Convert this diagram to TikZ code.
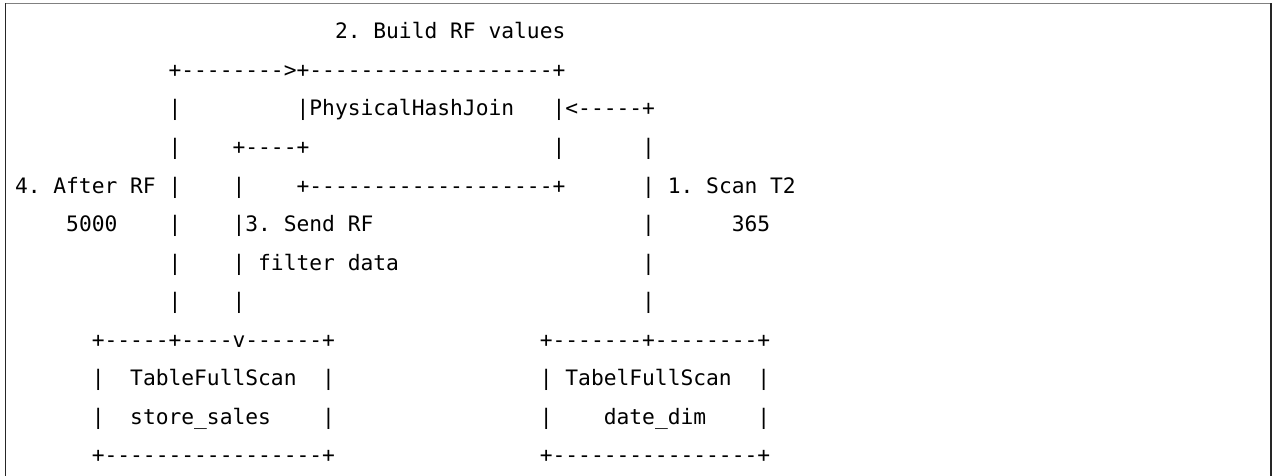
\documentclass[tikz,border=0pt]{standalone}
\usepackage{fontspec}
\setmonofont{DejaVu Sans Mono}
\begin{document}
\begin{tikzpicture}[x=1pt,y=-1pt,
  asc/.style={anchor=base west,inner sep=0pt,outer sep=0pt,text=black,
    font=\ttfamily\fontsize{21.26}{21.26}\selectfont\frenchspacing},
  frametop/.style={draw=black!50,line width=1.5pt},
  frameside/.style={draw=black!85,line width=1.5pt}]
\newcommand\asc[4]{\node[asc] (#1) at ({15+#3*12.8},{39+(#2-1)*38.5}) {#4};}
\newcommand\usc{\char"5F\relax}
\useasboundingbox (0,0) rectangle (1273,476);
\fill[white] (0,0) rectangle (1273,476);
% frame (bottom edge is cut off)
\coordinate (ftl) at (5.5,3.5);
\coordinate (ftr) at (1271.2,3.5);
\coordinate (fbl) at (5.5,476);
\coordinate (fbr) at (1271.2,476);
\draw[frametop] (ftl) -- (ftr);
\draw[frameside] (ftl) -- (fbl);
\draw[frameside] (ftr) -- (fbr);
% row 1
\asc{r1a}{1}{25}{2. Build RF values}
% row 2
\asc{r2a}{2}{12}{+-------->+-------------------+}
% row 3
\asc{r3a}{3}{12}{|}
\asc{r3b}{3}{22}{|PhysicalHashJoin}
\asc{r3c}{3}{42}{|<-----+}
% row 4
\asc{r4a}{4}{12}{|}
\asc{r4b}{4}{17}{+----+}
\asc{r4c}{4}{42}{|}
\asc{r4d}{4}{49}{|}
% row 5
\asc{r5a}{5}{0}{4. After RF |}
\asc{r5b}{5}{17}{|}
\asc{r5c}{5}{22}{+-------------------+}
\asc{r5d}{5}{49}{| 1. Scan T2}
% row 6
\asc{r6a}{6}{4}{5000}
\asc{r6b}{6}{12}{|}
\asc{r6c}{6}{17}{|3. Send RF}
\asc{r6d}{6}{49}{|}
\asc{r6e}{6}{56}{365}
% row 7
\asc{r7a}{7}{12}{|}
\asc{r7b}{7}{17}{| filter data}
\asc{r7c}{7}{49}{|}
% row 8
\asc{r8a}{8}{12}{|}
\asc{r8b}{8}{17}{|}
\asc{r8c}{8}{49}{|}
% row 9
\asc{r9a}{9}{6}{+-----+----v------+}
\asc{r9b}{9}{41}{+-------+--------+}
% row 10
\asc{r10a}{10}{6}{|}
\asc{r10b}{10}{9}{TableFullScan}
\asc{r10c}{10}{24}{|}
\asc{r10d}{10}{41}{|}
\asc{r10e}{10}{43}{TabelFullScan}
\asc{r10f}{10}{58}{|}
% row 11
\asc{r11a}{11}{6}{|}
\asc{r11b}{11}{9}{store\usc sales}
\asc{r11c}{11}{24}{|}
\asc{r11d}{11}{41}{|}
\asc{r11e}{11}{46}{date\usc dim}
\asc{r11f}{11}{58}{|}
% row 12
\asc{r12a}{12}{6}{+-----------------+}
\asc{r12b}{12}{41}{+----------------+}
\end{tikzpicture}
\end{document}
